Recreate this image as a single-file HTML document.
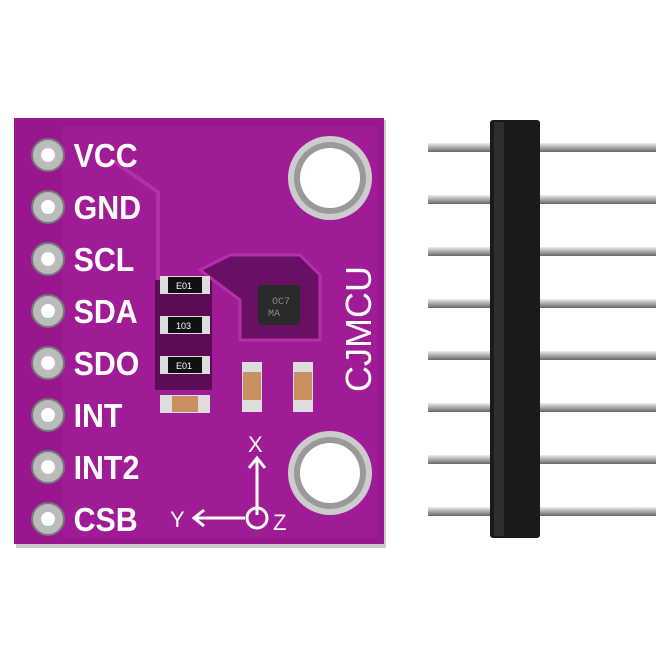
<!DOCTYPE html>
<html><head><style>html,body{margin:0;padding:0;background:#fff}svg{display:block}</style></head>
<body>
<svg width="670" height="670" viewBox="0 0 670 670" xmlns="http://www.w3.org/2000/svg">
<defs>
<linearGradient id="pin" x1="0" y1="0" x2="0" y2="1">
<stop offset="0" stop-color="#eee"/><stop offset="0.5" stop-color="#aaa"/><stop offset="1" stop-color="#666"/>
</linearGradient>
</defs>
<rect x="16" y="120" width="370" height="428" fill="#c9c9c9"/>
<rect x="14" y="118" width="370" height="426" fill="#9a1690"/>
<rect x="62" y="126" width="316" height="412" fill="#a01c96"/>
<path d="M112 160 L158 192 L158 370 L200 370" stroke="#b52eaa" stroke-width="4" fill="none"/>
<path d="M155 280 L212 280 L212 390 L155 390 Z" fill="#5a0c55"/>
<path d="M200 270 L230 255 L300 255 L320 275 L320 340 L240 340 L240 300 Z" fill="#6a1064" stroke="#b52eaa" stroke-width="3"/>
<g font-family="Liberation Sans, sans-serif" font-size="9" fill="#fff">
<rect x="160" y="276" width="50" height="18" fill="#ddd"/><rect x="168" y="277" width="34" height="16" fill="#111"/><text x="176" y="289">E01</text>
<rect x="160" y="316" width="50" height="18" fill="#ddd"/><rect x="168" y="317" width="34" height="16" fill="#111"/><text x="176" y="329">103</text>
<rect x="160" y="356" width="50" height="18" fill="#ddd"/><rect x="168" y="357" width="34" height="16" fill="#111"/><text x="176" y="369">E01</text>
</g>
<rect x="160" y="395" width="50" height="18" fill="#ddd"/><rect x="172" y="396" width="26" height="16" fill="#c89060"/>
<rect x="242" y="362" width="20" height="50" fill="#ddd"/><rect x="243" y="372" width="18" height="28" fill="#c89060"/>
<rect x="293" y="362" width="20" height="50" fill="#ddd"/><rect x="294" y="372" width="18" height="28" fill="#c89060"/>
<rect x="258" y="285" width="42" height="40" rx="3" fill="#2a2a2a"/>
<text x="272" y="304" font-family="Liberation Mono, monospace" font-size="10" fill="#888">OC7</text>
<text x="268" y="316" font-family="Liberation Mono, monospace" font-size="10" fill="#888">MA</text>
<circle cx="330" cy="178" r="42" fill="#ccc"/><circle cx="330" cy="178" r="36" fill="#999"/><circle cx="330" cy="178" r="30" fill="#fff"/>
<circle cx="330" cy="473" r="42" fill="#ccc"/><circle cx="330" cy="473" r="36" fill="#999"/><circle cx="330" cy="473" r="30" fill="#fff"/>
<text transform="translate(371,392) rotate(-90)" font-family="Liberation Sans, sans-serif" font-size="36" fill="#fff">CJMCU</text>
<g stroke="#fff" stroke-width="3" fill="none">
<line x1="257" y1="515" x2="257" y2="458"/><polyline points="249,468 257,458 265,468"/>
<line x1="245" y1="518" x2="194" y2="518"/><polyline points="204,510 194,518 204,526"/>
<circle cx="257" cy="518" r="10"/>
</g>
<g font-family="Liberation Sans, sans-serif" font-size="22" fill="#fff">
<text x="248" y="452">X</text><text x="170" y="527">Y</text><text x="273" y="530">Z</text>
</g>
<g font-family="Liberation Sans, sans-serif" font-weight="bold" font-size="33" fill="#fff">
<g>
<circle cx="48" cy="155" r="16" fill="#bbb" stroke="#777" stroke-width="2"/><circle cx="48" cy="155" r="7" fill="#fff"/>
<circle cx="48" cy="207" r="16" fill="#bbb" stroke="#777" stroke-width="2"/><circle cx="48" cy="207" r="7" fill="#fff"/>
<circle cx="48" cy="259" r="16" fill="#bbb" stroke="#777" stroke-width="2"/><circle cx="48" cy="259" r="7" fill="#fff"/>
<circle cx="48" cy="311" r="16" fill="#bbb" stroke="#777" stroke-width="2"/><circle cx="48" cy="311" r="7" fill="#fff"/>
<circle cx="48" cy="363" r="16" fill="#bbb" stroke="#777" stroke-width="2"/><circle cx="48" cy="363" r="7" fill="#fff"/>
<circle cx="48" cy="415" r="16" fill="#bbb" stroke="#777" stroke-width="2"/><circle cx="48" cy="415" r="7" fill="#fff"/>
<circle cx="48" cy="467" r="16" fill="#bbb" stroke="#777" stroke-width="2"/><circle cx="48" cy="467" r="7" fill="#fff"/>
<circle cx="48" cy="519" r="16" fill="#bbb" stroke="#777" stroke-width="2"/><circle cx="48" cy="519" r="7" fill="#fff"/>
</g>
<g transform="scale(0.92,1)">
<text x="80" y="167">VCC</text>
<text x="80" y="219">GND</text>
<text x="80" y="271">SCL</text>
<text x="80" y="323">SDA</text>
<text x="80" y="375">SDO</text>
<text x="80" y="427">INT</text>
<text x="80" y="479">INT2</text>
<text x="80" y="531">CSB</text>
</g>
</g>
<g fill="url(#pin)">
<rect x="428" y="143" width="228" height="9"/>
<rect x="428" y="195" width="228" height="9"/>
<rect x="428" y="247" width="228" height="9"/>
<rect x="428" y="299" width="228" height="9"/>
<rect x="428" y="351" width="228" height="9"/>
<rect x="428" y="403" width="228" height="9"/>
<rect x="428" y="455" width="228" height="9"/>
<rect x="428" y="507" width="228" height="9"/>
</g>
<rect x="490" y="120" width="50" height="418" rx="3" fill="#1a1a1a"/>
<rect x="494" y="122" width="10" height="414" fill="#2e2e2e"/>
</svg>
</body></html>
